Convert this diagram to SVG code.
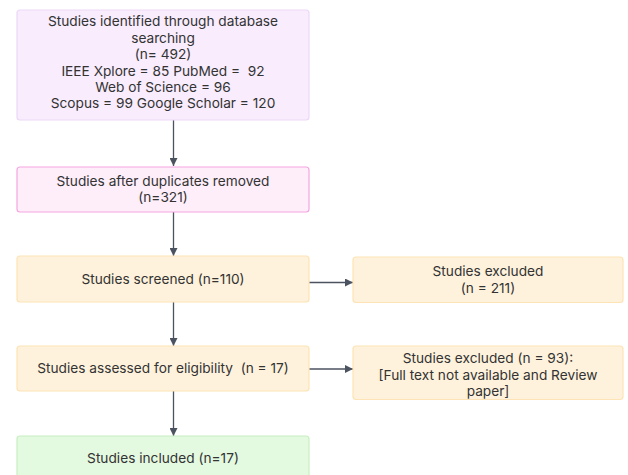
<svg xmlns="http://www.w3.org/2000/svg" width="628" height="475" viewBox="0 0 628 475">
<defs>
<style>
text{font-family:Inter,"Liberation Sans",sans-serif;font-size:13.7px;fill:#333;text-anchor:middle}
.e{stroke:#4b5260;stroke-width:1.3;fill:none;marker-end:url(#ah)}
.p{fill:#f8ecfd;stroke:#ecd7f8;stroke-width:1.2}
.k{fill:#fdeefa;stroke:#f5a6e2;stroke-width:1.2}
.o{fill:#fef2dc;stroke:#fde3b5;stroke-width:1.2}
.g{fill:#e3f9e0;stroke:#c8eec2;stroke-width:1.2}
</style>
<marker id="ah" viewBox="0 0 10 10" refX="10" refY="5" markerWidth="8" markerHeight="8" markerUnits="userSpaceOnUse" orient="auto"><path d="M0,0L10,5L0,10z" fill="#4b5260"/></marker>
</defs>
<rect width="628" height="475" fill="#fff"/>
<g id="connectors">
<line class="e" x1="173.5" y1="120" x2="173.5" y2="166"/>
<line class="e" x1="173.5" y1="212" x2="173.5" y2="256"/>
<line class="e" x1="173.5" y1="302" x2="173.5" y2="346"/>
<line class="e" x1="173.5" y1="391" x2="173.5" y2="436"/>
<line class="e" x1="309" y1="282.5" x2="353" y2="282.5"/>
<line class="e" x1="309" y1="369" x2="353" y2="369"/>
</g>
<g id="n1"><rect class="p" x="17" y="10" width="292" height="110" rx="3"/>
<text x="163" y="26">Studies identified through database</text>
<text x="163" y="42.5">searching</text>
<text x="163" y="59">(n= 492)</text>
<text x="163" y="75.5" xml:space="preserve">IEEE Xplore = 85 PubMed =  92</text>
<text x="163" y="92">Web of Science = 96</text>
<text x="163" y="108">Scopus = 99 Google Scholar = 120</text></g>
<g id="n2"><rect class="k" x="17" y="167" width="292" height="45" rx="3"/>
<text x="163" y="186">Studies after duplicates removed</text>
<text x="163" y="202">(n=321)</text></g>
<g id="n3"><rect class="o" x="17" y="256" width="292" height="46" rx="3"/>
<text x="163" y="283.5">Studies screened (n=110)</text></g>
<g id="n4"><rect class="o" x="353" y="257" width="270" height="45.5" rx="3"/>
<text x="488" y="276">Studies excluded</text>
<text x="488" y="292.5">(n = 211)</text></g>
<g id="n5"><rect class="o" x="17" y="346" width="292" height="45" rx="3"/>
<text x="163" y="373" xml:space="preserve">Studies assessed for eligibility  (n = 17)</text></g>
<g id="n6"><rect class="o" x="353" y="346" width="270" height="53.5" rx="3"/>
<text x="488" y="363">Studies excluded (n = 93):</text>
<text x="488" y="379.5">[Full text not available and Review</text>
<text x="488" y="396">paper]</text></g>
<g id="n7"><rect class="g" x="17" y="436" width="292" height="50" rx="3"/>
<text x="163" y="463">Studies included (n=17)</text></g>
</svg>
